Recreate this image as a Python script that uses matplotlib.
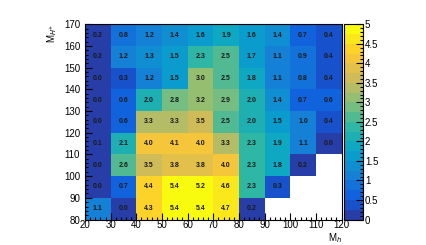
import numpy as np
import matplotlib
matplotlib.use("Agg")
import matplotlib.pyplot as plt
from matplotlib.colors import ListedColormap, LinearSegmentedColormap, BoundaryNorm
from matplotlib.ticker import MultipleLocator

plt.rcParams["font.family"] = ["Liberation Sans", "DejaVu Sans"]

# bin edges
x_edges = list(range(20, 121, 10))
y_edges = list(range(80, 171, 10))

# cell values, rows from bottom (80-90) to top (160-170); None = empty bin
row_80 = [1.1, 0.0, 4.3, 5.4, 5.4, 4.7, 0.2, None, None, None]
row_90 = [0.0, 0.7, 4.4, 5.4, 5.2, 4.6, 2.3, 0.3, None, None]
row_100 = [0.0, 2.6, 3.5, 3.8, 3.8, 4.0, 2.3, 1.8, 0.2, None]
row_110 = [0.1, 2.1, 4.0, 4.1, 4.0, 3.3, 2.3, 1.9, 1.1, 0.0]
row_120 = [0.0, 0.6, 3.3, 3.3, 3.5, 2.5, 2.0, 1.5, 1.0, 0.4]
row_130 = [0.0, 0.6, 2.0, 2.8, 3.2, 2.9, 2.0, 1.4, 0.7, 0.6]
row_140 = [0.0, 0.3, 1.2, 1.5, 3.0, 2.5, 1.8, 1.1, 0.8, 0.4]
row_150 = [0.2, 1.2, 1.3, 1.5, 2.3, 2.5, 1.7, 1.1, 0.9, 0.4]
row_160 = [0.2, 0.8, 1.2, 1.4, 1.6, 1.9, 1.6, 1.4, 0.7, 0.4]

rows = [row_80, row_90, row_100, row_110, row_120, row_130, row_140, row_150, row_160]
z = np.array([[np.nan if v is None else v for v in r] for r in rows], dtype=float)
z = np.ma.masked_invalid(z)

# ROOT kBird palette, 20 contour levels
stops = [0.0, 0.125, 0.25, 0.375, 0.5, 0.625, 0.75, 0.875, 1.0]
red = [0.2082, 0.0592, 0.0780, 0.0232, 0.1802, 0.5301, 0.8186, 0.9956, 0.9764]
green = [0.1664, 0.3599, 0.5041, 0.6419, 0.7178, 0.7492, 0.7328, 0.7862, 0.9832]
blue = [0.5293, 0.8684, 0.8385, 0.7914, 0.6425, 0.4662, 0.3499, 0.1968, 0.0539]
bird = LinearSegmentedColormap.from_list(
    "bird", [(s, (r, g, b)) for s, r, g, b in zip(stops, red, green, blue)])
ncont = 20
cmap = ListedColormap([bird((i + 0.99) / ncont) for i in range(ncont)])
levels = np.linspace(0, 5, ncont + 1)
norm = BoundaryNorm(levels, cmap.N)

fig = plt.figure(figsize=(4.27, 2.45), dpi=100)
ax = fig.add_axes([0.199, 0.104, 0.601, 0.797])
cax = fig.add_axes([0.805, 0.104, 0.045, 0.797])

mesh = ax.pcolormesh(x_edges, y_edges, z, cmap=cmap, norm=norm)

for j in range(len(y_edges) - 1):
    for i in range(len(x_edges) - 1):
        v = rows[j][i]
        if v is None:
            continue
        ax.text((x_edges[i] + x_edges[i + 1]) / 2, (y_edges[j] + y_edges[j + 1]) / 2,
                f"{v:.1f}", ha="center", va="center", fontsize=5, fontweight="bold",
                color="#1a1a1a")

ax.set_xlim(20, 120)
ax.set_ylim(80, 170)
ax.xaxis.set_major_locator(MultipleLocator(10))
ax.xaxis.set_minor_locator(MultipleLocator(2))
ax.yaxis.set_major_locator(MultipleLocator(10))
ax.yaxis.set_minor_locator(MultipleLocator(2))
ax.tick_params(which="both", direction="in", labelsize=7, width=0.8)
ax.tick_params(axis="x", pad=0.5)
ax.tick_params(axis="y", pad=3.5)
ax.tick_params(which="major", length=5)
ax.tick_params(which="minor", length=2.5)
for sp in ax.spines.values():
    sp.set_linewidth(0.8)

fig.text(0.800, 0.056, "M$_{h}$", ha="right", va="top", fontsize=7)
fig.text(0.138, 0.905, "M$_{H^{+}}$", ha="right", va="top", rotation=90, fontsize=7)

cb = fig.colorbar(mesh, cax=cax, ticks=np.arange(0, 5.01, 0.5))
cb.ax.set_yticklabels(["0", "0.5", "1", "1.5", "2", "2.5", "3", "3.5", "4", "4.5", "5"])
cb.ax.yaxis.set_minor_locator(MultipleLocator(0.1))
cb.ax.tick_params(which="both", direction="in", labelsize=7, pad=1.5, width=0.8)
cb.ax.tick_params(which="major", length=5)
cb.ax.tick_params(which="minor", length=2.5)
cb.outline.set_linewidth(0.8)

fig.savefig("out.png", dpi=100)
